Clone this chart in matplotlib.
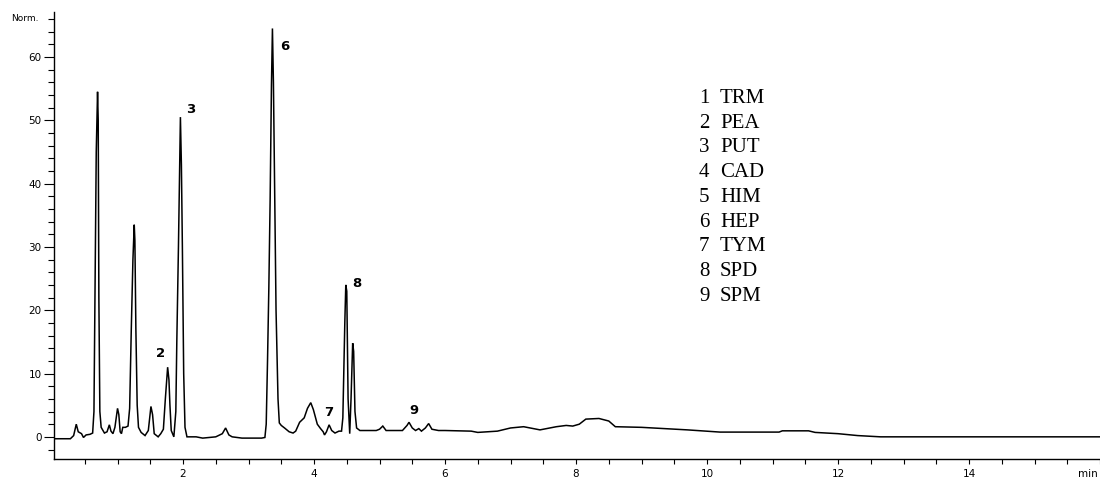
import matplotlib
matplotlib.use("Agg")
import matplotlib.pyplot as plt
from matplotlib.ticker import MultipleLocator

# retention time (min) and normalised signal
time_min = [0.03, 0.28, 0.33, 0.37, 0.40, 0.45, 0.48, 0.52, 0.58, 0.62,
            0.64, 0.655, 0.675, 0.695, 0.705, 0.715, 0.73, 0.75, 0.80, 0.84,
            0.875, 0.90, 0.93, 0.96, 1.00, 1.02, 1.04, 1.06, 1.08, 1.12,
            1.16, 1.185, 1.21, 1.235, 1.255, 1.265, 1.28, 1.30, 1.32, 1.36,
            1.42, 1.47, 1.51, 1.535, 1.56, 1.62, 1.66, 1.70, 1.73, 1.765,
            1.785, 1.80, 1.82, 1.86, 1.89, 1.905, 1.93, 1.96, 1.975, 1.99,
            2.01, 2.03, 2.06, 2.2, 2.3, 2.5, 2.6, 2.65, 2.7, 2.75,
            2.9, 3.2, 3.25, 3.27, 3.29, 3.31, 3.33, 3.35, 3.365, 3.38,
            3.40, 3.42, 3.45, 3.47, 3.50, 3.55, 3.62, 3.68, 3.72, 3.78,
            3.85, 3.90, 3.95, 3.99, 4.05, 4.10, 4.14, 4.16, 4.19, 4.23,
            4.27, 4.32, 4.38, 4.42, 4.44, 4.47, 4.485, 4.50, 4.52, 4.545,
            4.565, 4.59, 4.605, 4.625, 4.65, 4.7, 4.8, 4.95, 5.00, 5.05,
            5.10, 5.35, 5.42, 5.45, 5.50, 5.55, 5.60, 5.64, 5.70, 5.75,
            5.80, 5.9, 6.0, 6.4, 6.5, 6.8, 7.0, 7.2, 7.45, 7.7,
            7.85, 7.95, 8.05, 8.15, 8.35, 8.5, 8.6, 9.0, 9.35, 9.7,
            10.0, 10.2, 11.1, 11.15, 11.55, 11.65, 12.0, 12.3, 12.65, 16.0]
signal = [-0.3, -0.3, 0.2, 2.0, 0.8, 0.5, -0.1, 0.3, 0.4, 0.6,
          4.0, 21.0, 45.0, 54.5, 50.0, 22.0, 4.0, 1.5, 0.6, 0.8,
          1.9, 0.9, 0.5, 1.5, 4.5, 3.5, 0.8, 0.5, 1.5, 1.5,
          1.7, 4.5, 17.0, 28.0, 33.5, 31.0, 17.0, 5.0, 1.5, 0.7,
          0.2, 1.0, 4.8, 3.5, 0.5, 0.0, 0.5, 1.2, 6.0, 11.0,
          9.0, 5.0, 1.0, 0.0, 4.0, 15.0, 30.0, 50.5, 43.0, 30.0,
          10.0, 1.5, 0.0, 0.0, -0.2, 0.0, 0.5, 1.4, 0.3, 0.0,
          -0.2, -0.2, -0.1, 2.0, 12.0, 23.5, 37.5, 55.5, 64.5, 56.0,
          38.0, 20.0, 6.0, 2.2, 1.8, 1.4, 0.8, 0.6, 0.9, 2.3,
          3.0, 4.5, 5.4, 4.3, 2.0, 1.3, 0.8, 0.3, 0.8, 1.9,
          1.0, 0.6, 0.9, 0.9, 3.0, 18.0, 24.0, 23.0, 6.0, 0.5,
          6.0, 14.8, 13.5, 4.0, 1.4, 1.0, 1.0, 1.0, 1.2, 1.7,
          1.0, 1.0, 1.8, 2.3, 1.4, 1.0, 1.3, 0.9, 1.4, 2.1,
          1.2, 1.0, 1.0, 0.9, 0.7, 0.9, 1.4, 1.6, 1.1, 1.6,
          1.8, 1.7, 2.0, 2.8, 2.9, 2.5, 1.6, 1.5, 1.3, 1.1,
          0.9, 0.75, 0.75, 0.95, 0.95, 0.7, 0.5, 0.2, 0.0, 0.0]

# peak number labels (number, time, height)
peak_labels = ["2", "3", "6", "7", "8", "9"]
peak_label_x = [1.66, 2.12, 3.55, 4.22, 4.66, 5.52]
peak_label_y = [13.2, 51.7, 61.6, 3.9, 24.2, 4.2]

# compound key
key_numbers = ["1", "2", "3", "4", "5", "6", "7", "8", "9"]
key_names = ["TRM", "PEA", "PUT", "CAD", "HIM", "HEP", "TYM", "SPD", "SPM"]

x_ticks = [2, 4, 6, 8, 10, 12, 14]
y_ticks = [0, 10, 20, 30, 40, 50, 60]

W, H = 1100, 479
fig = plt.figure(figsize=(W / 100, H / 100), dpi=100)
ax = fig.add_axes([54 / W, (H - 459) / H, (W - 54) / W, (459 - 12) / H])

ax.plot(time_min, signal, color="black", lw=1.1, solid_joinstyle="miter")

ax.set_xlim(0.03, 16.0)
ax.set_ylim(-3.5, 67.1)

for s in ("top", "right"):
    ax.spines[s].set_visible(False)
for s in ("left", "bottom"):
    ax.spines[s].set_linewidth(1.0)

ax.set_xticks(x_ticks)
ax.set_xticklabels([str(v) for v in x_ticks])
ax.xaxis.set_minor_locator(MultipleLocator(0.5))
ax.set_yticks(y_ticks)
ax.set_yticklabels([str(v) for v in y_ticks])
ax.yaxis.set_minor_locator(MultipleLocator(2))

ax.tick_params(axis="x", which="both", direction="out", length=3.5, width=0.8,
               labelsize=7.5, pad=4)
ax.tick_params(axis="y", which="major", direction="out", length=7, width=0.8,
               labelsize=7.5, pad=2)
ax.tick_params(axis="y", which="minor", direction="out", length=4, width=0.8)

# "Norm." and "min" unit labels
ax.text(-0.015, 66, "Norm.", transform=ax.get_yaxis_transform(),
        ha="right", va="center", fontsize=6.5)
ax.text(15.82, -(477 - 459) / 447, "min", transform=ax.get_xaxis_transform(),
        ha="center", va="baseline", fontsize=7.5)

for lab, x, y in zip(peak_labels, peak_label_x, peak_label_y):
    ax.text(x, y, lab, ha="center", va="center", fontsize=9.5,
            fontweight="bold", color="black")

# compound key (figure pixel coordinates)
y0, dy = 98.5, 24.7
for i, (n, name) in enumerate(zip(key_numbers, key_names)):
    yy = 1 - (y0 + i * dy) / H
    fig.text(699 / W, yy, n, ha="left", va="center", fontsize=15,
             family="Liberation Serif")
    fig.text(720 / W, yy, name, ha="left", va="center", fontsize=15,
             family="Liberation Serif")

fig.savefig("out.png", dpi=100)
